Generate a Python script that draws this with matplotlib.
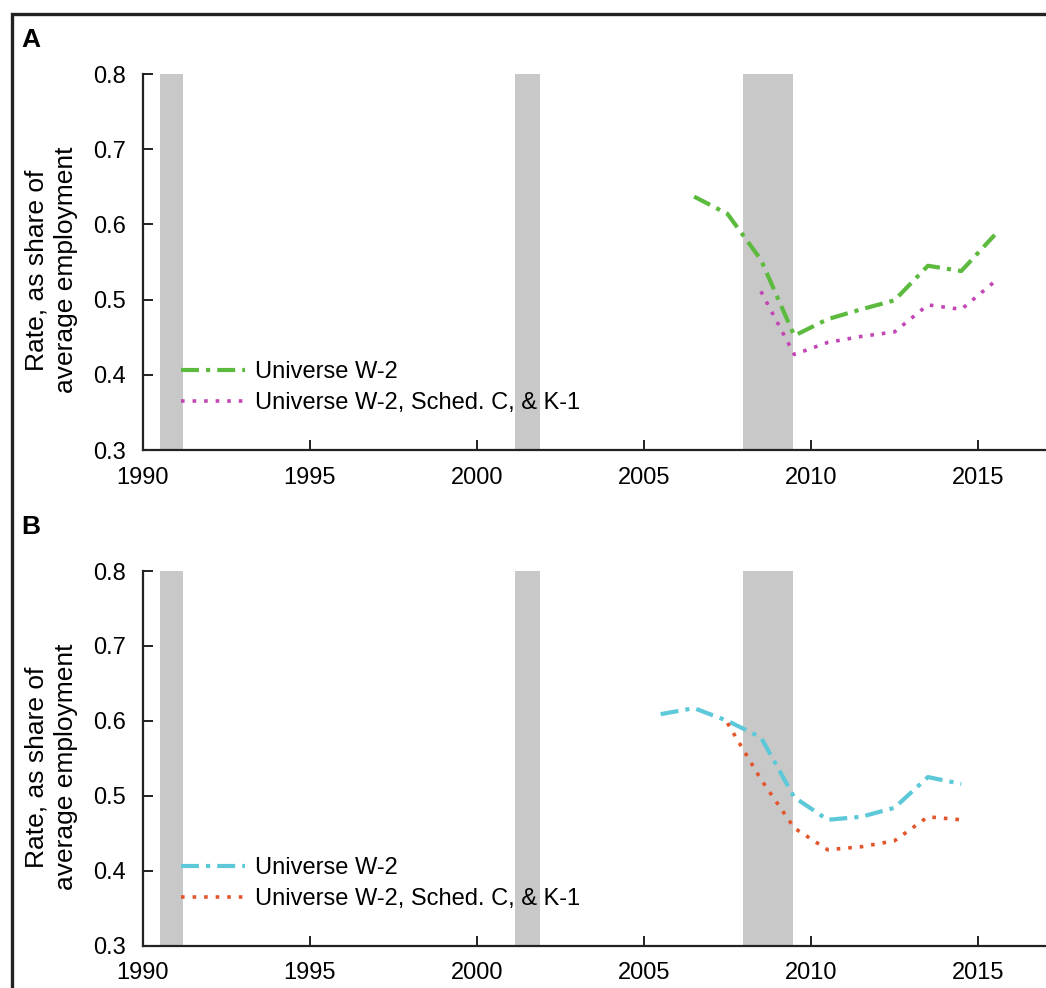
import matplotlib
matplotlib.use("Agg")
import matplotlib.pyplot as plt
from matplotlib.patches import Rectangle

plt.rcParams['font.family'] = ['Liberation Sans', 'DejaVu Sans']
plt.rcParams['font.size'] = 17

# ─── DATA ───────────────────────────────────────────────────────────────
recessions = [(1990.5, 1991.2), (2001.15, 2001.9), (2007.95, 2009.47)]

years_a_w2 = [2006.5, 2007.5, 2008.5, 2009.5, 2010.5, 2011.5, 2012.5, 2013.5, 2014.5, 2015.5]
rate_a_w2 = [0.637, 0.614, 0.553, 0.452, 0.474, 0.487, 0.499, 0.545, 0.538, 0.586]

years_a_all = [2008.5, 2009.5, 2010.5, 2011.5, 2012.5, 2013.5, 2014.5, 2015.5]
rate_a_all = [0.511, 0.427, 0.443, 0.451, 0.457, 0.493, 0.487, 0.524]

years_b_w2 = [2005.5, 2006.5, 2007.5, 2008.5, 2009.5, 2010.5, 2011.5, 2012.5, 2013.5, 2014.5]
rate_b_w2 = [0.609, 0.617, 0.600, 0.578, 0.498, 0.468, 0.472, 0.484, 0.525, 0.516]

years_b_all = [2007.5, 2008.5, 2009.5, 2010.5, 2011.5, 2012.5, 2013.5, 2014.5]
rate_b_all = [0.597, 0.522, 0.457, 0.428, 0.432, 0.440, 0.472, 0.468]

labels = ['Universe W-2', 'Universe W-2, Sched. C, & K-1']
xticks = [1990, 1995, 2000, 2005, 2010, 2015]
yticks = [0.3, 0.4, 0.5, 0.6, 0.7, 0.8]

# ─── FIGURE ─────────────────────────────────────────────────────────────
W, H = 1046, 988
fig = plt.figure(figsize=(W / 100, H / 100), dpi=100)

# outer frame (runs off the right and bottom edges)
fig.patches.append(Rectangle((12 / W, -0.1), 1.2, 1 - 14 / H + 0.1, transform=fig.transFigure,
                             fill=False, edgecolor='#222222', linewidth=2.4))


def make_panel(rect, letter, letter_y, label_y, x1, y1, c1, x2, y2, c2):
    ax = fig.add_axes(rect)
    for a, b in recessions:
        ax.axvspan(a, b, color='#c8c8c8', lw=0, zorder=1)
    ax.plot(x1, y1, color=c1, lw=3, dashes=(4.3, 1.7, 1.0, 1.7), label=labels[0], zorder=3)
    ax.plot(x2, y2, color=c2, lw=2.6, dashes=(1.0, 2.2), label=labels[1], zorder=3)
    ax.set_xlim(1990, 1990 + (W - 143) / 33.4)
    ax.set_ylim(0.3, 0.8)
    ax.set_xticks(xticks)
    ax.set_yticks(yticks)
    ax.set_yticklabels([f'{v:.1f}' for v in yticks])
    for s in ['top', 'right']:
        ax.spines[s].set_visible(False)
    for s in ['left', 'bottom']:
        ax.spines[s].set_linewidth(1.6)
        ax.spines[s].set_color('#222222')
    ax.tick_params(axis='both', direction='in', length=7, width=1.4, color='#222222',
                   labelsize=17, pad=12)
    ax.legend(loc='upper left', bbox_to_anchor=(0.042, 0.236), frameon=False, borderpad=0,
              borderaxespad=0, handlelength=2.7, handletextpad=0.45, labelspacing=0.38,
              fontsize=17)
    fig.text(31 / W, 1 - letter_y / H, letter, fontsize=19, fontweight='bold',
             ha='center', va='center')
    fig.text(51 / W, 1 - label_y / H, 'Rate, as share of\naverage employment', fontsize=19,
             rotation=90, ha='center', va='center', linespacing=1.3)
    return ax


ax_a = make_panel([143 / W, 1 - 450 / H, (W - 143) / W, 376 / H], 'A', 40, 270,
                  years_a_w2, rate_a_w2, '#5cba3e', years_a_all, rate_a_all, '#c246b4')
ax_b = make_panel([143 / W, 1 - 945.7 / H, (W - 143) / W, 374.7 / H], 'B', 527, 767,
                  years_b_w2, rate_b_w2, '#5cc8d8', years_b_all, rate_b_all, '#e4552c')

fig.savefig('out.png', dpi=100)
